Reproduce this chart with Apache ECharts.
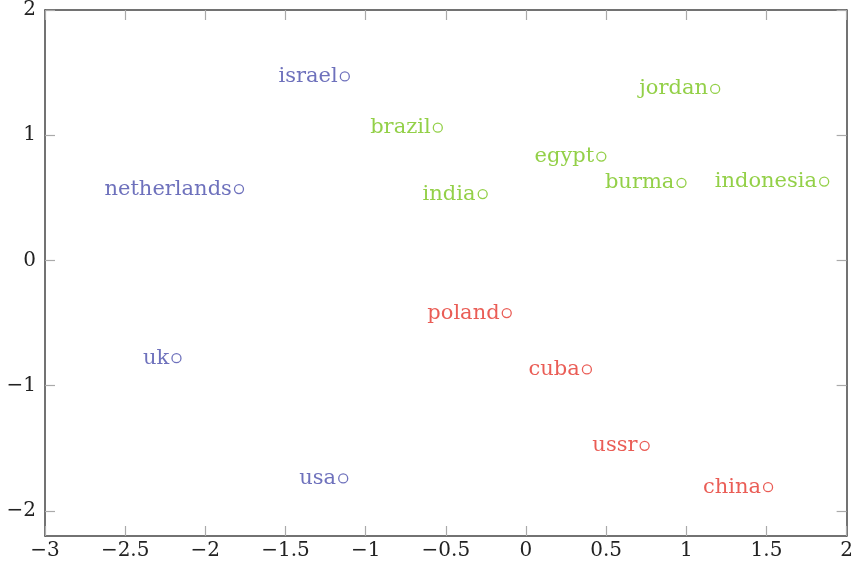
<!DOCTYPE html>
<html>
<head>
<meta charset="utf-8">
<script src="https://cdn.jsdelivr.net/npm/echarts@6/dist/echarts.min.js"></script>
<style>html,body{margin:0;padding:0;background:#fff}#c{width:856px;height:566px}</style>
</head>
<body>
<div id="c"></div>
<script>
const blueNames = ['israel', 'netherlands', 'uk', 'usa'];
const blueX = [-1.13, -1.79, -2.18, -1.14];
const blueY = [1.47, 0.57, -0.78, -1.74];

const greenNames = ['brazil', 'jordan', 'egypt', 'burma', 'indonesia', 'india'];
const greenX = [-0.55, 1.18, 0.47, 0.97, 1.86, -0.27];
const greenY = [1.06, 1.37, 0.83, 0.62, 0.63, 0.53];

const redNames = ['poland', 'cuba', 'ussr', 'china'];
const redX = [-0.12, 0.38, 0.74, 1.51];
const redY = [-0.42, -0.87, -1.48, -1.81];

const xTicks = [-3, -2.5, -2, -1.5, -1, -0.5, 0, 0.5, 1, 1.5, 2];
const yTicks = [-2, -1, 0, 1, 2];

const FONT = '"DejaVu Serif", "Liberation Serif", serif';
const fmt = v => String(v).replace('-', '\u2212');

function mk(names, xs, ys) {
  return names.map((n, i) => ({ name: n, value: [xs[i], ys[i]] }));
}
function series(names, xs, ys, color) {
  return {
    type: 'scatter',
    xAxisIndex: 0, yAxisIndex: 0,
    data: mk(names, xs, ys),
    symbol: 'circle',
    symbolSize: 9,
    itemStyle: { color: '#fff', borderColor: color, borderWidth: 1.3 },
    label: {
      show: true, position: 'left', distance: 2,
      formatter: p => p.name,
      color: color, fontFamily: FONT, fontSize: 21
    },
    emphasis: { disabled: true },
    silent: true
  };
}

const tickStyle = { show: true, inside: true, length: 10, lineStyle: { color: '#aaa', width: 1.2 } };
const lineStyle = { show: true, onZero: false, lineStyle: { color: '#444', width: 1.5 } };

const chart = echarts.init(document.getElementById('c'), null, { renderer: 'canvas' });
chart.setOption({
  animation: false,
  backgroundColor: '#fff',
  grid: { left: 45, right: 9, top: 10, bottom: 30, containLabel: false },
  xAxis: [
    {
      type: 'value', min: -3, max: 2, position: 'bottom',
      axisLine: lineStyle,
      axisTick: Object.assign({ customValues: xTicks }, tickStyle),
      axisLabel: { customValues: xTicks, formatter: fmt, color: '#222', fontFamily: FONT, fontSize: 20, margin: 5 },
      splitLine: { show: false }
    },
    {
      type: 'value', min: -3, max: 2, position: 'top',
      axisLine: lineStyle,
      axisTick: Object.assign({ customValues: xTicks }, tickStyle),
      axisLabel: { show: false },
      splitLine: { show: false }
    }
  ],
  yAxis: [
    {
      type: 'value', min: -2.2, max: 2, position: 'left',
      axisLine: lineStyle,
      axisTick: Object.assign({ customValues: yTicks }, tickStyle),
      axisLabel: { customValues: yTicks, formatter: fmt, color: '#222', fontFamily: FONT, fontSize: 20, margin: 9 },
      splitLine: { show: false }
    },
    {
      type: 'value', min: -2.2, max: 2, position: 'right',
      axisLine: lineStyle,
      axisTick: Object.assign({ customValues: yTicks }, tickStyle),
      axisLabel: { show: false },
      splitLine: { show: false }
    }
  ],
  series: [
    series(blueNames, blueX, blueY, '#4a4eab'),
    series(greenNames, greenX, greenY, '#78c41a'),
    series(redNames, redX, redY, '#e5352c')
  ]
});
</script>
</body>
</html>
